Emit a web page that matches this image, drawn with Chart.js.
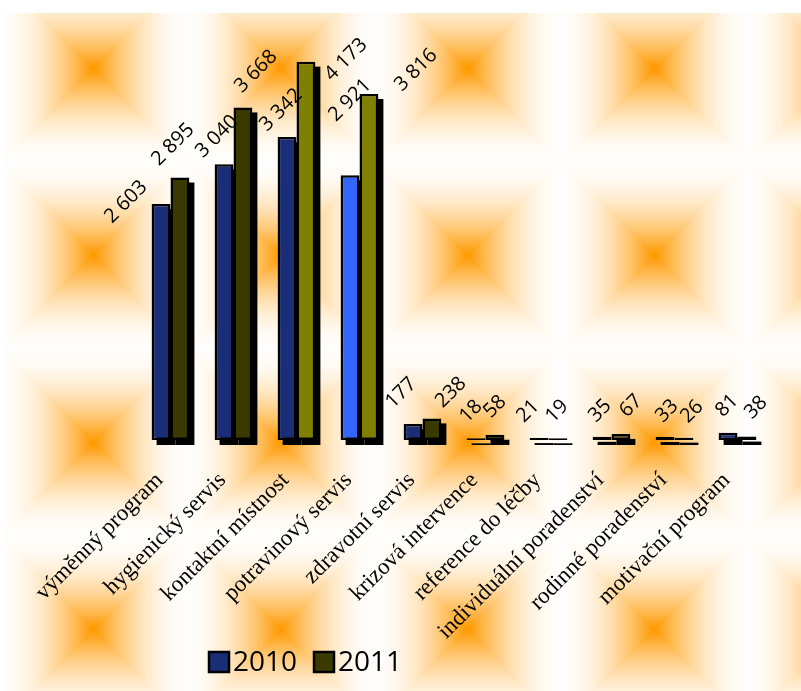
<!DOCTYPE html>
<html>
<head>
<meta charset="utf-8">
<script src="https://cdn.jsdelivr.net/npm/chart.js@4.4.0/dist/chart.umd.min.js"></script>
<style>
  body { margin: 0; background: #fff; }
  #chart_canvas { display: block; }
</style>
</head>
<body>
<canvas id="chart_canvas" width="801" height="691"></canvas>
<script>
var categories = [
    'výměnný program',
    'hygienický servis',
    'kontaktní místnost',
    'potravinový servis',
    'zdravotní servis',
    'krizová intervence',
    'reference do léčby',
    'individuální poradenství',
    'rodinné poradenství',
    'motivační program'
];
var values2010 = [2603, 3040, 3342, 2921, 177, 18, 21, 35, 33, 81];
var values2011 = [2895, 3668, 4173, 3816, 238, 58, 19, 67, 26, 38];
var seriesNames = ['2010', '2011'];

// where each value label sits, relative to the top of its bar (px)
var labelShift2010 = [[-35, -2], [-7, -28], [-6, -27], [0, -75], [-12, -31], [-5, -27], [-11, -27], [-2, -26], [2, -26], [-1, -27]];
var labelShift2011 = [[-7, -33], [13, -36], [40, -2], [47, -24], [19, -26], [0, -28], [-1, -27], [10, -28], [8, -26], [9, -29]];

var blue = '#1a2e78';
var lightBlue = '#3366ff';
var darkOlive = '#3a3a00';
var olive = '#808000';

var graphCanvas = document.getElementById('chart_canvas');
var graphContext = graphCanvas.getContext('2d');

function fmt(v) {
    return String(v).replace(/\B(?=(\d{3})+(?!\d))/g, ' ');
}

// orange "from centre" tile, like the office fill
function makeTile() {
    var size = 187;
    var c = document.createElement('canvas');
    c.width = size;
    c.height = size;
    var cx = c.getContext('2d');
    var img = cx.createImageData(size, size);
    var h = size / 2;
    for (var y = 0; y < size; y++) {
        for (var x = 0; x < size; x++) {
            var d = Math.max(Math.abs(x + 0.5 - h), Math.abs(y + 0.5 - h)) / h;
            var f = Math.pow(Math.max(0, 1 - d), 1.9) + 0.015;
            if (f > 1) f = 1;
            var i = (y * size + x) * 4;
            img.data[i] = 255;
            img.data[i + 1] = Math.round(255 - f * (255 - 153));
            img.data[i + 2] = Math.round(255 - f * 255);
            img.data[i + 3] = 255;
        }
    }
    cx.putImageData(img, 0, 0);
    return c;
}
var tile = makeTile();

var backgroundPlugin = {
    id: 'tiles',
    beforeDraw: function (chart) {
        var ctx = chart.ctx;
        ctx.save();
        ctx.fillStyle = '#ffffff';
        ctx.fillRect(0, 0, chart.width, chart.height);
        var pat = ctx.createPattern(tile, 'repeat');
        ctx.translate(0, -25);
        ctx.fillStyle = pat;
        ctx.fillRect(5, 13 + 25, chart.width, chart.height);
        ctx.restore();
    }
};

var shadowPlugin = {
    id: 'barShadow',
    beforeDatasetsDraw: function (chart) {
        var ctx = chart.ctx;
        ctx.save();
        ctx.fillStyle = '#000';
        chart.data.datasets.forEach(function (ds, di) {
            chart.getDatasetMeta(di).data.forEach(function (bar) {
                var p = bar.getProps(['x', 'y', 'base', 'width'], true);
                ctx.fillRect(p.x - p.width / 2 + 5, p.y + 5, p.width, p.base - p.y);
            });
        });
        ctx.restore();
    }
};

var labelPlugin = {
    id: 'valueLabels',
    afterDatasetsDraw: function (chart) {
        var ctx = chart.ctx;
        var shifts = [labelShift2010, labelShift2011];
        ctx.save();
        ctx.font = '20px "Open Sans"';
        ctx.fillStyle = '#000';
        ctx.textAlign = 'center';
        ctx.textBaseline = 'middle';
        chart.data.datasets.forEach(function (ds, di) {
            chart.getDatasetMeta(di).data.forEach(function (bar, i) {
                var p = bar.getProps(['x', 'y'], true);
                ctx.save();
                ctx.translate(p.x + shifts[di][i][0], p.y + shifts[di][i][1]);
                ctx.rotate(-Math.PI / 4);
                ctx.fillText(fmt(ds.data[i]), 0, 0);
                ctx.restore();
            });
        });
        ctx.restore();
    }
};

var legendPlugin = {
    id: 'boxLegend',
    afterDraw: function (chart) {
        var ctx = chart.ctx;
        var xs = [209, 314];
        var colors = [blue, darkOlive];
        ctx.save();
        ctx.font = '28px "Open Sans"';
        ctx.textBaseline = 'middle';
        ctx.textAlign = 'left';
        for (var i = 0; i < seriesNames.length; i++) {
            ctx.fillStyle = colors[i];
            ctx.fillRect(xs[i], 652, 20, 20);
            ctx.lineWidth = 2.5;
            ctx.strokeStyle = '#000';
            ctx.strokeRect(xs[i], 652, 20, 20);
            ctx.fillStyle = '#000';
            ctx.fillText(seriesNames[i], xs[i] + 24, 663);
        }
        ctx.restore();
    }
};

var myChart = new Chart(graphContext, {
    type: 'bar',
    data: {
        labels: categories,
        datasets: [{
            label: seriesNames[0],
            data: values2010,
            backgroundColor: [blue, blue, blue, lightBlue, blue, blue, blue, blue, blue, blue],
            borderColor: '#000',
            borderWidth: 2.5,
            borderSkipped: false
        }, {
            label: seriesNames[1],
            data: values2011,
            backgroundColor: [darkOlive, darkOlive, olive, olive, darkOlive, darkOlive, darkOlive, darkOlive, darkOlive, darkOlive],
            borderColor: '#000',
            borderWidth: 2.5,
            borderSkipped: false
        }]
    },
    options: {
        responsive: false,
        animation: false,
        devicePixelRatio: 1,
        categoryPercentage: 0.6,
        barPercentage: 1.0,
        layout: {
            padding: { left: 139, right: 32, top: 32, bottom: 0 }
        },
        scales: {
            x: {
                grid: { display: false },
                border: { display: false },
                ticks: {
                    color: '#000',
                    font: { family: '"Liberation Serif"', size: 23 },
                    maxRotation: 45,
                    minRotation: 45,
                    autoSkip: false,
                    padding: 19,
                    labelOffset: -11
                },
                afterFit: function (scale) {
                    scale.height = 251;
                }
            },
            y: {
                display: false,
                min: 0,
                max: 4500
            }
        },
        plugins: {
            legend: { display: false },
            tooltip: { enabled: false }
        }
    },
    plugins: [backgroundPlugin, shadowPlugin, labelPlugin, legendPlugin]
});
</script>
</body>
</html>
